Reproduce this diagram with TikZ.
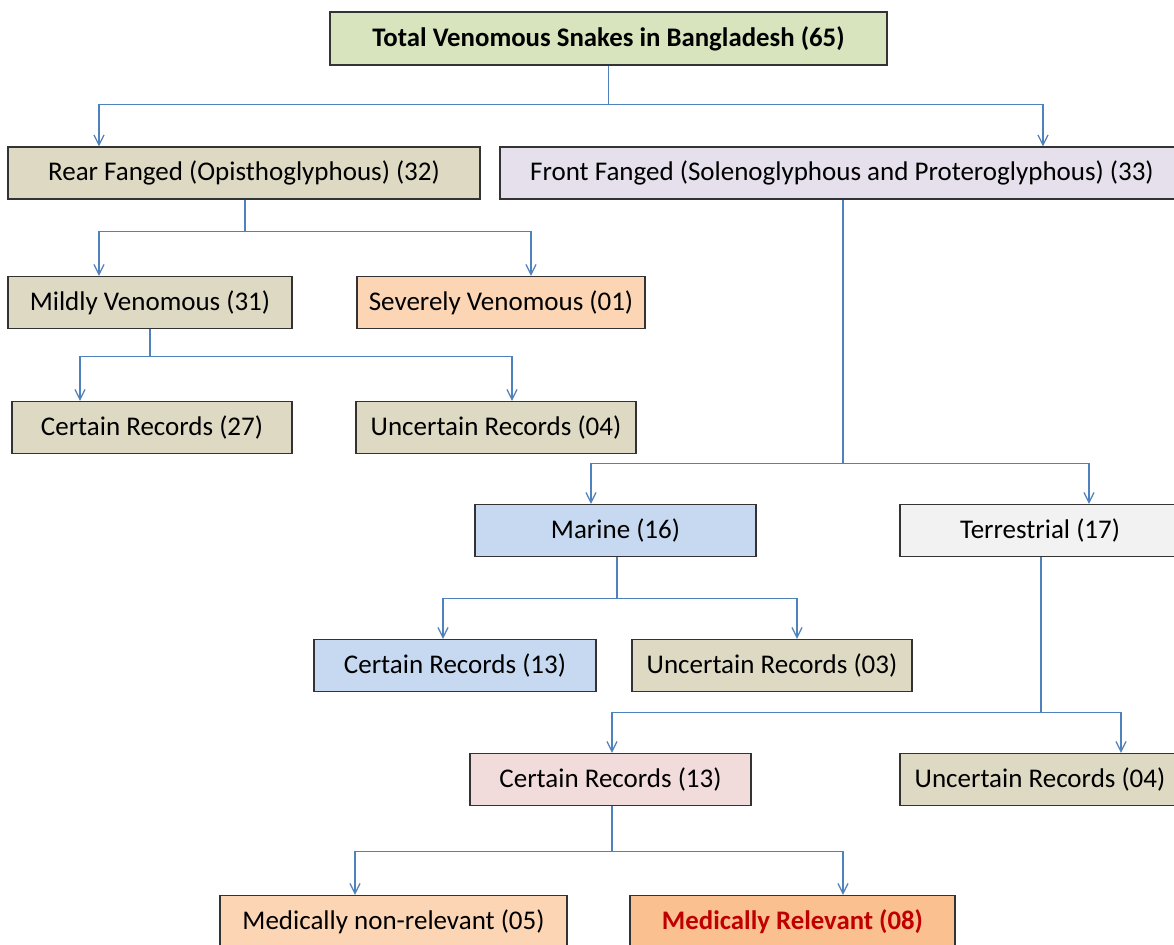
\documentclass[tikz,border=0pt]{standalone}
\usepackage{fontspec}
\setmainfont{Carlito}
\usetikzlibrary{arrows.meta}
\definecolor{greenbox}{HTML}{D7E4BD}
\definecolor{tanbox}{HTML}{DDD9C3}
\definecolor{lilacbox}{HTML}{E5E0EC}
\definecolor{peachbox}{HTML}{FCD5B5}
\definecolor{bluebox}{HTML}{C6D9F1}
\definecolor{greybox}{HTML}{F2F2F2}
\definecolor{pinkbox}{HTML}{F2DCDB}
\definecolor{orangebox}{HTML}{FAC090}
\definecolor{redtext}{HTML}{C00000}
\definecolor{linkblue}{HTML}{4F81BD}
\begin{document}
\begin{tikzpicture}[x=0.5pt,y=-0.5pt,
base/.style={%
draw=black!80,
line width=0.7pt,
font={\fontsize{13.5pt}{16}\selectfont},
minimum width=140pt,
minimum height=26pt,
inner sep=0pt,
fill=tanbox,
},
head/.style={%
base,
font={\bfseries\fontsize{13.4pt}{16}\selectfont},
fill=greenbox,
minimum height=26.5pt,
},
severe/.style={%
base,
fill=peachbox,
},
marine/.style={%
base,
fill=bluebox,
},
relevant/.style={%
base,
fill=orangebox,
font={\bfseries\fontsize{13.4pt}{16}\selectfont\color{redtext}},
},
link/.style={%
draw=linkblue,
line width=0.6pt,
-{Straight Barb[length=5pt,width=5pt]},
}
]
\useasboundingbox (0,0) rectangle (1174,944);
\clip (0,0) rectangle (1174,944);
\fill[white] (0,0) rectangle (1174,944);

%Total
\node[head,minimum width=278.5pt](total)at(608.5,38.5){Total Venomous Snakes in Bangladesh (65)};

%Fangs
\node[base,minimum width=236pt](rear)at(244,173){Rear Fanged (Opisthoglyphous) (32)};
\node[base,fill=lilacbox,minimum width=342pt](front)at(842,173){Front Fanged (Solenoglyphous and Proteroglyphous) (33)};
\draw[link](total.south)--++(0,39)-|([xshift=-72.5pt]rear.north);
\draw[link](total.south)--++(0,39)-|([xshift=100.5pt]front.north);

%Rear fanged
\node[base,minimum width=142pt](mild)at(150,302.5){Mildly Venomous (31)};
\node[severe,minimum width=144pt](severe)at(501,302.5){Severely Venomous (01)};
\draw[link]([xshift=0.5pt]rear.south)--++(0,32)-|([xshift=-25.5pt]mild.north);
\draw[link]([xshift=0.5pt]rear.south)--++(0,32)-|([xshift=15pt]severe.north);

\node[base](mildcert)at(152,427.5){Certain Records (27)};
\node[base](mildunc)at(496,427.5){Uncertain Records (04)};
\draw[link](mild.south)--++(0,27)-|([xshift=-36pt]mildcert.north);
\draw[link](mild.south)--++(0,27)-|([xshift=8pt]mildunc.north);

%Front fanged
\node[marine,minimum width=140.5pt](marine)at(615.5,530.5){Marine (16)};
\node[base,fill=greybox](terr)at(1040,530.5){Terrestrial (17)};
\draw[link]([xshift=0.5pt]front.south)--++(0,264)-|([xshift=-12.25pt]marine.north);
\draw[link]([xshift=0.5pt]front.south)--++(0,264)-|([xshift=24.5pt]terr.north);

%Marine
\node[marine,minimum width=141pt](marcert)at(455,665.5){Certain Records (13)};
\node[base](marunc)at(772,665.5){Uncertain Records (03)};
\draw[link]([xshift=0.75pt]marine.south)--++(0,41)-|([xshift=-6pt]marcert.north);
\draw[link]([xshift=0.75pt]marine.south)--++(0,41)-|([xshift=12.5pt]marunc.north);

%Terrestrial
\node[base,fill=pinkbox,minimum width=140.5pt](tercert)at(610.5,779.5){Certain Records (13)};
\node[base](terunc)at(1040,779.5){Uncertain Records (04)};
\draw[link]([xshift=0.5pt]terr.south)--++(0,155)-|([xshift=0.75pt]tercert.north);
\draw[link]([xshift=0.5pt]terr.south)--++(0,155)-|([xshift=40.5pt]terunc.north);

%Medical
\node[severe,minimum width=173.5pt](nonrel)at(393.5,921.5){Medically non-relevant (05)};
\node[relevant,minimum width=162.5pt](rel)at(792.5,921.5){Medically Relevant (08)};
\draw[link]([xshift=0.75pt]tercert.south)--++(0,45)-|([xshift=-19.25pt]nonrel.north);
\draw[link]([xshift=0.75pt]tercert.south)--++(0,45)-|([xshift=25.25pt]rel.north);
\end{tikzpicture}
\end{document}
